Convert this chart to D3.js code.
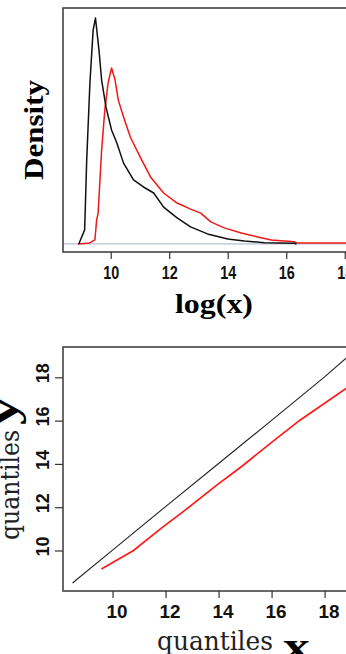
<!DOCTYPE html>
<html>
<head>
<meta charset="utf-8">
<script src="https://cdn.jsdelivr.net/npm/d3@7"></script>
<style>
  html, body { margin: 0; padding: 0; background: #fff; overflow: hidden; }
  svg { display: block; }
</style>
</head>
<body>
<svg id="chart" width="346" height="654"></svg>
<script>
// ---- Density panel: estimated densities of log(x) for two samples ----
const logxBlack = [8.91, 9.11, 9.18, 9.29, 9.40, 9.48, 9.60, 9.69, 9.84, 10.03, 10.21, 10.44, 10.78, 11.12, 11.47, 11.81, 12.27, 12.73, 13.31, 14.00, 14.57, 15.26, 16.28, 16.35];
const densBlack = [0.000, 0.056, 0.334, 0.641, 0.852, 0.900, 0.772, 0.653, 0.545, 0.454, 0.402, 0.322, 0.255, 0.227, 0.203, 0.147, 0.104, 0.068, 0.040, 0.020, 0.012, 0.005, 0.003, 0.000];

const logxRed = [8.88, 9.28, 9.46, 9.52, 9.57, 9.69, 9.80, 9.91, 10.03, 10.15, 10.26, 10.44, 10.67, 11.01, 11.36, 11.81, 12.27, 12.73, 13.08, 13.42, 13.88, 14.46, 15.03, 15.49, 16.28, 16.35, 19.00];
const densRed  = [0.000, 0.004, 0.016, 0.096, 0.123, 0.374, 0.534, 0.641, 0.701, 0.653, 0.573, 0.506, 0.426, 0.346, 0.267, 0.203, 0.163, 0.139, 0.123, 0.088, 0.064, 0.044, 0.028, 0.016, 0.009, 0.004, 0.004];

const densTicks = [10, 12, 14, 16, 18];

// ---- Q-Q panel: quantiles of y against quantiles of x ----
const qqBlackX = [8.49, 10.00, 12.00, 14.00, 16.00, 18.00, 18.80, 19.60];
const qqBlackY = [8.50, 10.02, 12.03, 14.02, 16.01, 18.02, 18.87, 19.70];

const qqRedX = [9.58, 10.79, 11.89, 12.64, 13.92, 14.93, 15.94, 17.07, 18.81, 19.60];
const qqRedY = [9.15, 10.00, 11.08, 11.77, 13.01, 13.94, 14.94, 16.02, 17.49, 18.12];

const qqXTicks = [10, 12, 14, 16, 18];
const qqYTicks = [10, 12, 14, 16, 18];

const svg = d3.select("#chart");
const boxColor = "#444";
const tickFont = "'Liberation Sans', Arial, sans-serif";
const titleSerif = "'Liberation Serif', 'Times New Roman', serif";

// ================= Density panel =================
const densBox = { left: 63, top: 8, bottom: 252, right: 374 };
const xTop = d3.scaleLinear().domain([8.37, 19.0]).range([densBox.left, densBox.right]);
const yTop = d3.scaleLinear().domain([-0.032, 0.94]).range([densBox.bottom, densBox.top]);

const gTop = svg.append("g");
svg.append("clipPath").attr("id", "clipTop")
  .append("rect").attr("x", densBox.left).attr("y", densBox.top)
  .attr("width", densBox.right - densBox.left).attr("height", densBox.bottom - densBox.top);

// zero reference line
gTop.append("line")
  .attr("x1", densBox.left).attr("x2", densBox.right)
  .attr("y1", yTop(0)).attr("y2", yTop(0))
  .attr("stroke", "#b9c0cc").attr("stroke-width", 1.2);

const densLine = d3.line().x(d => xTop(d[0])).y(d => yTop(d[1]));
gTop.append("path")
  .datum(d3.zip(logxRed, densRed))
  .attr("clip-path", "url(#clipTop)")
  .attr("d", densLine).attr("fill", "none")
  .attr("stroke", "#f01818").attr("stroke-width", 1.5).attr("stroke-linejoin", "round");
gTop.append("path")
  .datum(d3.zip(logxBlack, densBlack))
  .attr("clip-path", "url(#clipTop)")
  .attr("d", densLine).attr("fill", "none")
  .attr("stroke", "#111").attr("stroke-width", 1.5).attr("stroke-linejoin", "round");

gTop.append("rect")
  .attr("x", densBox.left).attr("y", densBox.top)
  .attr("width", densBox.right - densBox.left).attr("height", densBox.bottom - densBox.top)
  .attr("fill", "none").attr("stroke", boxColor).attr("stroke-width", 1.6);

const axTop = gTop.append("g").attr("transform", `translate(0,${densBox.bottom})`)
  .call(d3.axisBottom(xTop).tickValues(densTicks).tickSize(7).tickFormat(d3.format("d")));
axTop.select(".domain").remove();
axTop.selectAll(".tick line").attr("stroke", "#333").attr("stroke-width", 1.2);
axTop.selectAll(".tick text")
  .attr("y", 27).attr("dy", null)
  .attr("font-family", tickFont).attr("font-weight", "bold").attr("font-size", 19)
  .attr("fill", "#111")
  .attr("textLength", 16).attr("lengthAdjust", "spacingAndGlyphs");

svg.append("text")
  .attr("transform", "translate(43,130) rotate(-90)")
  .attr("text-anchor", "middle")
  .attr("font-family", titleSerif).attr("font-weight", "bold").attr("font-size", 27)
  .attr("textLength", 100).attr("lengthAdjust", "spacingAndGlyphs")
  .attr("fill", "#000")
  .text("Density");

svg.append("text")
  .attr("x", 214).attr("y", 313)
  .attr("text-anchor", "middle")
  .attr("font-family", titleSerif).attr("font-weight", "bold").attr("font-size", 28)
  .attr("textLength", 78).attr("lengthAdjust", "spacingAndGlyphs")
  .attr("fill", "#000")
  .text("log(x)");

// ================= Q-Q panel =================
const qqBox = { left: 63, top: 347, bottom: 591, right: 367 };
const xBot = d3.scaleLinear().domain([8.13, 19.6]).range([qqBox.left, qqBox.right]);
const yBot = d3.scaleLinear().domain([8.13, 19.4]).range([qqBox.bottom, qqBox.top]);

const gBot = svg.append("g");
svg.append("clipPath").attr("id", "clipBot")
  .append("rect").attr("x", qqBox.left).attr("y", qqBox.top)
  .attr("width", qqBox.right - qqBox.left).attr("height", qqBox.bottom - qqBox.top);

const qqLine = d3.line().x(d => xBot(d[0])).y(d => yBot(d[1]));
gBot.append("path")
  .datum(d3.zip(qqBlackX, qqBlackY))
  .attr("clip-path", "url(#clipBot)")
  .attr("d", qqLine).attr("fill", "none")
  .attr("stroke", "#222").attr("stroke-width", 1.1);
gBot.append("path")
  .datum(d3.zip(qqRedX, qqRedY))
  .attr("clip-path", "url(#clipBot)")
  .attr("d", qqLine).attr("fill", "none")
  .attr("stroke", "#ff1a1a").attr("stroke-width", 1.7);

gBot.append("rect")
  .attr("x", qqBox.left).attr("y", qqBox.top)
  .attr("width", qqBox.right - qqBox.left).attr("height", qqBox.bottom - qqBox.top)
  .attr("fill", "none").attr("stroke", boxColor).attr("stroke-width", 1.6);

const axBx = gBot.append("g").attr("transform", `translate(0,${qqBox.bottom})`)
  .call(d3.axisBottom(xBot).tickValues(qqXTicks).tickSize(7).tickFormat(d3.format("d")));
axBx.select(".domain").remove();
axBx.selectAll(".tick line").attr("stroke", "#333").attr("stroke-width", 1.2);
axBx.selectAll(".tick text")
  .attr("x", 4).attr("y", 27).attr("dy", null)
  .attr("font-family", tickFont).attr("font-weight", "bold").attr("font-size", 19)
  .attr("fill", "#111")
  .attr("textLength", 21).attr("lengthAdjust", "spacingAndGlyphs");

const axBy = gBot.append("g").attr("transform", `translate(${qqBox.left},0)`)
  .call(d3.axisLeft(yBot).tickValues(qqYTicks).tickSize(8).tickFormat(d3.format("d")));
axBy.select(".domain").remove();
axBy.selectAll(".tick line").attr("stroke", "#333").attr("stroke-width", 1.2);
axBy.selectAll(".tick text")
  .attr("x", null).attr("dy", null)
  .attr("transform", "translate(-14,-4.5) rotate(-90)")
  .attr("text-anchor", "middle")
  .attr("font-family", tickFont).attr("font-weight", "bold").attr("font-size", 19)
  .attr("fill", "#111")
  .attr("textLength", 20).attr("lengthAdjust", "spacingAndGlyphs");

// axis titles: plain "quantiles" followed by a bold variable letter
svg.append("text")
  .attr("x", 215).attr("y", 650)
  .attr("text-anchor", "middle")
  .attr("font-family", "'DejaVu Serif', serif").attr("font-size", 26)
  .attr("textLength", 116).attr("lengthAdjust", "spacingAndGlyphs")
  .attr("fill", "#222")
  .text("quantiles");
svg.append("text")
  .attr("x", 296.5).attr("y", 660)
  .attr("text-anchor", "middle")
  .attr("font-family", titleSerif).attr("font-weight", "bold").attr("font-size", 40)
  .attr("textLength", 27).attr("lengthAdjust", "spacingAndGlyphs")
  .attr("fill", "#000")
  .text("x");

svg.append("text")
  .attr("transform", "translate(19,485) rotate(-90)")
  .attr("text-anchor", "middle")
  .attr("font-family", "'DejaVu Serif', serif").attr("font-size", 26)
  .attr("textLength", 110).attr("lengthAdjust", "spacingAndGlyphs")
  .attr("fill", "#222")
  .text("quantiles");
svg.append("text")
  .attr("transform", "translate(17,411) rotate(-90)")
  .attr("text-anchor", "middle")
  .attr("font-family", titleSerif).attr("font-weight", "bold").attr("font-size", 40)
  .attr("textLength", 28).attr("lengthAdjust", "spacingAndGlyphs")
  .attr("fill", "#000")
  .text("y");
</script>
</body>
</html>
